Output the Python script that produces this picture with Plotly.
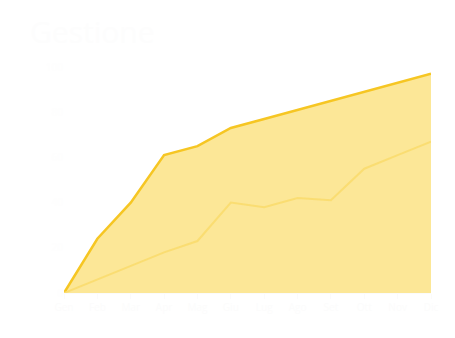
import plotly.graph_objects as go

months = ["Gen", "Feb", "Mar", "Apr", "Mag", "Giu", "Lug", "Ago", "Set", "Ott", "Nov", "Dic"]
totale = [0, 24, 40, 61, 65, 73, 77, 81, 85, 89, 93, 97]
parziale = [0, 6, 12, 18, 23, 40, 38, 42, 41, 55, 61, 67]
title_text = "Gestione"

x = list(range(len(months)))

fig = go.Figure()
fig.add_trace(go.Scatter(
    x=x, y=totale, mode="lines", name="Totale",
    line=dict(color="#f6c623", width=2.5),
    fill="tozeroy", fillcolor="rgba(252,230,145,0.95)",
))
fig.add_trace(go.Scatter(
    x=x, y=parziale, mode="lines", name="Parziale",
    line=dict(color="rgba(250,220,110,0.9)", width=2),
    fill="tozeroy", fillcolor="rgba(252,232,150,0.25)",
))

fig.update_layout(
    width=455, height=338,
    margin=dict(l=64, r=24, t=67, b=45),
    paper_bgcolor="white", plot_bgcolor="white",
    showlegend=False,
    title=dict(text=title_text, x=0.066, xanchor="left", y=0.905, yanchor="middle",
               font=dict(family="Open Sans", size=30, color="#fdfdfd")),
    xaxis=dict(range=[0, 11], tickvals=x, ticktext=months, showgrid=False,
               showline=True, linecolor="#fbfbfb", ticks="outside", tickcolor="#fbfbfb",
               tickfont=dict(color="#fcfcfc", size=10), zeroline=False),
    yaxis=dict(range=[0, 100], dtick=20, showgrid=True, gridcolor="rgba(255,255,255,0.35)",
               tickfont=dict(color="#fefefe", size=10), zeroline=False),
)

fig.write_html("out.html")
